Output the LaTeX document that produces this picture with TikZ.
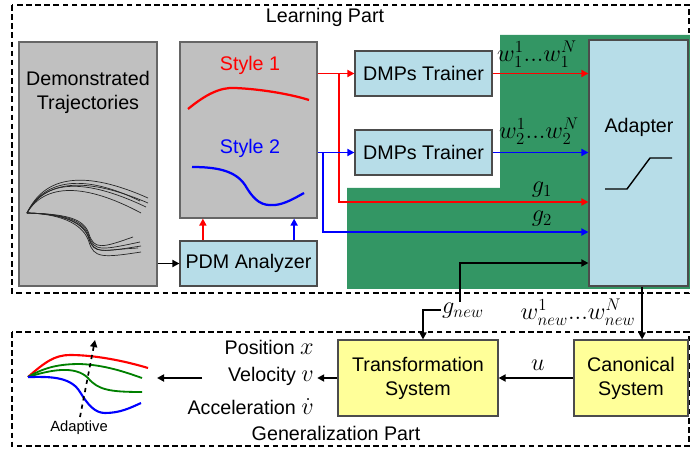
\documentclass[tikz,border=0pt]{standalone}
\usepackage{fontspec}
\setmainfont{Liberation Sans}
\usetikzlibrary{positioning,arrows.meta}

\definecolor{boxgray}{RGB}{192,192,192}
\definecolor{boxblue}{RGB}{183,221,232}
\definecolor{boxyellow}{RGB}{255,255,153}
\definecolor{areagreen}{RGB}{51,150,100}

\tikzset{
    grayblock/.style={draw=black!60, fill=boxgray, line width=0.8pt, inner sep=0pt},
    blueblock/.style={draw=black!70, fill=boxblue, line width=0.8pt, inner sep=0pt, align=center},
    yellowblock/.style={draw=black!70, fill=boxyellow, line width=0.8pt, inner sep=0pt, align=center},
    partbox/.style={draw, dash pattern=on 4pt off 2.5pt, line width=0.9pt},
    arr/.style={line width=1.3pt, -{Triangle[length=5pt,width=5pt]}},
    traj/.style={line width=0.5pt, black!85},
    mathlabel/.style={inner sep=0pt, font=\fontsize{17}{20}\selectfont},
}

\begin{document}
\begin{tikzpicture}[x=0.025cm, y=-0.025cm, font=\fontsize{14}{17}\selectfont]
    \useasboundingbox (0,0) rectangle (690,452);

    % Learning part frame and green area
    \draw[partbox] (12,5) rectangle (689,293);
    \node (learn) at (325,17) {Learning Part};
    \fill[areagreen] (500,35) -- (690,35) -- (690,289) -- (347,289) -- (347,188) -- (500,188) -- cycle;

    % Demonstrated trajectories
    \node[grayblock, minimum width=3.45cm, minimum height=6.1cm] (demo) at (88,164) {};
    \node[align=center] (demotext) at (88,92) {Demonstrated\\Trajectories};
    \coordinate (ds) at (27,213);
    \foreach \a/\b/\ex/\ey in {175/170/148/198, 180/176/148/203, 179/178/146/207, 183/183/141/213, 178/174/140/201}
        \draw[traj] (ds) .. controls (45,\a) and (85,\b) .. (\ex,\ey);
    \foreach \d/\m/\ex/\ey in {0/248/133/237, 2/250/140/242, 4/252/141/246, 8/258/141/252, 5/250/138/248}
        \draw[traj] (ds) .. controls (65,214) and (84,218+\d) .. (89,234+\d) .. controls (94,250+\d) and (102,\m) .. (\ex,\ey);

    % Styles and PDM analyzer
    \node[grayblock, minimum width=3.425cm, minimum height=4.4cm] (styles) at (248.5,130) {};
    \node[red] (style1) at (250,65) {Style 1};
    \node[blue] (style2) at (250,148) {Style 2};
    \draw[red, line width=1.6pt] (188,109) .. controls (205,95) and (220,87) .. (235,88) .. controls (260,89) and (290,94) .. (309,100);
    \draw[blue, line width=1.6pt] (192,167) .. controls (215,167) and (235,170) .. (245,185) .. controls (255,202) and (262,206) .. (275,205) .. controls (285,204) and (295,198) .. (304,193);
    \node[blueblock, minimum width=3.425cm, minimum height=1.125cm] (pdm) at (248.5,263.5) {PDM Analyzer};

    % Trainers and adapter
    \node[blueblock, minimum width=3.425cm, minimum height=1.125cm] (trainer1) at (423.5,73.5) {DMPs Trainer};
    \node[blueblock, minimum width=3.425cm, minimum height=1.125cm] (trainer2) at (423.5,152.5) {DMPs Trainer};
    \node[blueblock, minimum width=2.475cm, minimum height=6.15cm] (adapter) at (638.5,163) {};
    \node (adaptertext) at (639,127) {Adapter};
    \draw[line width=1pt] (605,189) -- (627,189) -- (650,158) -- (672,158);

    % Connectors of the learning part
    \draw[arr] (demo.east |- pdm.west) -- (pdm.west);
    \draw[arr, red] ([xshift=-1.14cm]pdm.north) -- ([xshift=-1.14cm]styles.south);
    \draw[arr, blue] ([xshift=1.14cm]pdm.north) -- ([xshift=1.14cm]styles.south);
    \coordinate (rsplit) at (339,73.5);
    \coordinate (bsplit) at (323,152.5);
    \coordinate (g1in) at ([yshift=-0.975cm]adapter.west);
    \coordinate (g2in) at ([yshift=-1.725cm]adapter.west);
    \coordinate (gin) at ([yshift=-2.5cm]adapter.west);
    \draw[arr, red] (styles.east |- trainer1.west) -- (trainer1.west);
    \draw[arr, red] (rsplit) |- (g1in);
    \draw[arr, blue] (styles.east |- trainer2.west) -- (trainer2.west);
    \draw[arr, blue] (bsplit) |- (g2in);
    \draw[arr, red] (trainer1.east) -- (adapter.west |- trainer1.east);
    \draw[arr, blue] (trainer2.east) -- (adapter.west |- trainer2.east);
    \node[mathlabel] (w1) at (537,54) {$w_1^1...w_1^N$};
    \node[mathlabel] (w2) at (539,131) {$w_2^1...w_2^N$};
    \node[mathlabel] (g1) at (542,190) {$g_1$};
    \node[mathlabel] (g2) at (542,219) {$g_2$};

    % Generalization part
    \draw[partbox] (12,332) rectangle (689,446);
    \node (gen) at (336,433) {Generalization Part};
    \node[yellowblock, minimum width=4cm, minimum height=1.9cm] (trans) at (418,378) {Transformation\\System};
    \node[yellowblock, minimum width=2.85cm, minimum height=1.9cm] (canon) at (631,378) {Canonical\\System};

    % Connectors between the parts
    \coordinate (gturn) at (460,310);
    \draw[line width=1.3pt, {Triangle[length=5pt,width=5pt]}-{Triangle[length=5pt,width=5pt]}] ([xshift=0.125cm]trans.north) |- (gturn) |- (gin);
    \node[mathlabel, fill=white, inner sep=1pt] (gnew) at (463,311) {$g_{new}$};
    \coordinate (wout) at ([xshift=0.09cm]adapter.south);
    \draw[arr] (wout) -- (wout |- canon.north);
    \node[mathlabel] (wnew) at (578,312) {$w_{new}^1...w_{new}^N$};
    \draw[arr] (canon.west) -- (trans.east);
    \node[mathlabel] (u) at (538,365) {$u$};

    % Outputs
    \node[anchor=east, inner sep=0pt] (pos) at (314,347) {Position {\fontsize{17}{20}\selectfont$x$}};
    \node[anchor=east, inner sep=0pt] (vel) at (314,376) {Velocity {\fontsize{17}{20}\selectfont$v$}};
    \node[anchor=east, inner sep=0pt] (acc) at (314,407) {Acceleration {\fontsize{17}{20}\selectfont$\dot{v}$}};
    \draw[arr] (trans.west) -- ([xshift=0.08cm]trans.west -| vel.east);
    \coordinate (velout) at (202,378);
    \coordinate (graphin) at (157,378);
    \draw[arr] (velout) -- (graphin);

    % Adapted trajectories
    \coordinate (gs) at (28,377);
    \draw[red, line width=1.5pt] (gs) .. controls (45,362) and (55,355) .. (70,355) .. controls (95,355) and (125,361) .. (148,368);
    \draw[green!50!black, line width=1.3pt] (gs) .. controls (45,367) and (60,364) .. (80,364) .. controls (105,365) and (125,372) .. (142,378);
    \draw[green!50!black, line width=1.3pt] (gs) .. controls (50,370) and (75,365) .. (88,378) .. controls (98,390) and (110,392) .. (142,392);
    \draw[blue, line width=1.5pt] (gs) .. controls (45,377) and (70,375) .. (80,392) .. controls (88,405) and (95,413) .. (105,413) .. controls (120,413) and (130,408) .. (141,403);
    \draw[line width=1.2pt, dashed, -{Triangle[length=5pt,width=5pt]}] (80,417) -- (95,340);
    \node[font=\fontsize{10.5}{12}\selectfont] (adaptive) at (79,428) {Adaptive};
\end{tikzpicture}
\end{document}
